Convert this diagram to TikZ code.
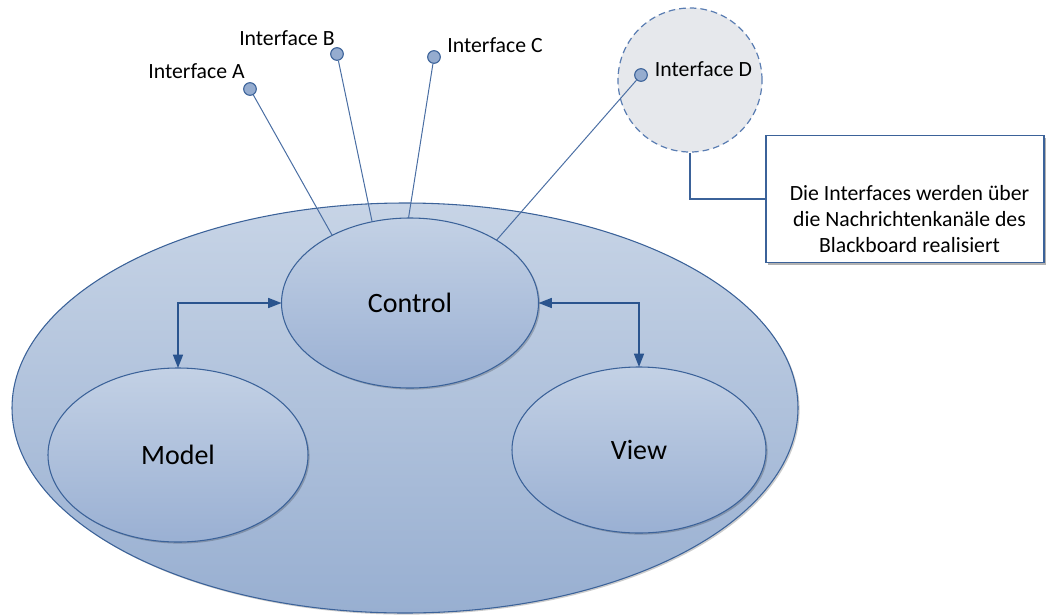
\documentclass[tikz,border=0pt]{standalone}
\usepackage{fontspec}
\setmainfont{Carlito}
\usetikzlibrary{shapes.geometric,arrows.meta,shadows}
\definecolor{edgeblue}{HTML}{3B6299}
\definecolor{arrowblue}{HTML}{2A548E}
\definecolor{linkblue}{HTML}{4A6EA3}
\definecolor{bluetop}{HTML}{C7D4E6}
\definecolor{bluebot}{HTML}{98AFD1}
\definecolor{innertop}{HTML}{C3D1E5}
\definecolor{innerbot}{HTML}{9AB0D3}
\definecolor{dotfill}{HTML}{95ACCF}
\definecolor{greyfill}{HTML}{E6E8EC}
\definecolor{dashblue}{HTML}{5A7DB2}
\begin{document}
\begin{tikzpicture}[x=0.75pt,y=-0.75pt,
  blob/.style={ellipse, draw=edgeblue, line width=0.8pt, inner sep=0pt, outer sep=0pt,
    drop shadow={shadow xshift=1.2pt, shadow yshift=-1.2pt, opacity=0.2, fill=black}},
  outerblob/.style={blob, top color=bluetop, bottom color=bluebot},
  innerblob/.style={blob, top color=innertop, bottom color=innerbot,
    font=\fontsize{21}{25}\selectfont},
  dot/.style={circle, draw=edgeblue, line width=0.8pt, fill=dotfill, minimum size=9.5pt, inner sep=0pt},
  iflabel/.style={anchor=base, inner sep=0pt, font=\fontsize{16.3}{19.5}\selectfont},
  link/.style={draw=linkblue, line width=0.75pt},
  arr/.style={draw=arrowblue, line width=1.1pt, {Triangle[length=10pt,width=7.5pt]}-{Triangle[length=10pt,width=7.5pt]}},
  callout/.style={draw=edgeblue, line width=1.1pt}
]
\useasboundingbox (0,0) rectangle (1046,615);

% outer ellipse
\node[outerblob, minimum width=589.5pt, minimum height=307.5pt] (board) at (405,408) {};

% inner ellipses
\node[innerblob, minimum width=192.75pt, minimum height=127.5pt] (ctrl) at (410,303) {Control};
\node[innerblob, minimum width=195pt, minimum height=130.5pt] (model) at (178,455) {Model};
\node[innerblob, minimum width=190.5pt, minimum height=124.5pt] (view) at (639,450) {View};

% arrows
\draw[arr] (ctrl.west) -| (model.north);
\draw[arr] (ctrl.east) -| (view.north);

% highlighted interface circle
\node[circle, draw=dashblue, dashed, dash pattern=on 5pt off 3pt, line width=0.9pt, fill=greyfill,
  minimum size=108pt, inner sep=0pt] (hl) at (690,80) {};

% note box
\node[rectangle, draw=edgeblue, line width=0.8pt, fill=white, minimum width=208.5pt, minimum height=95.25pt,
  inner sep=0pt,
  drop shadow={shadow xshift=1.5pt, shadow yshift=-1.5pt, opacity=0.3, fill=black}] (note) at (905,199) {};
\node[align=center, inner sep=0pt, font=\fontsize{16.3}{19.5}\selectfont] (notetext) at (909.5,219.5)
  {Die Interfaces werden über\\die Nachrichtenkanäle des\\Blackboard realisiert};
\draw[callout] (hl.south) |- (note.west);

% interface dots
\node[dot] (ia) at (250,89) {};
\node[dot] (ib) at (337,54) {};
\node[dot] (ic) at (434,57) {};
\node[dot] (id) at (641,75) {};

% labels
\node[iflabel] (la) at (196.5,78) {Interface A};
\node[iflabel] (lb) at (287,45) {Interface B};
\node[iflabel] (lc) at (495,52) {Interface C};
\node[iflabel] (ld) at (703.5,76) {Interface D};

% links
\draw[link] (ia) -- (ctrl.139.3);
\draw[link] (ib) -- (ctrl.115.7);
\draw[link] (ic) -- (ctrl.91.3);
\draw[link] (id) -- (ctrl.36.2);
\end{tikzpicture}
\end{document}
